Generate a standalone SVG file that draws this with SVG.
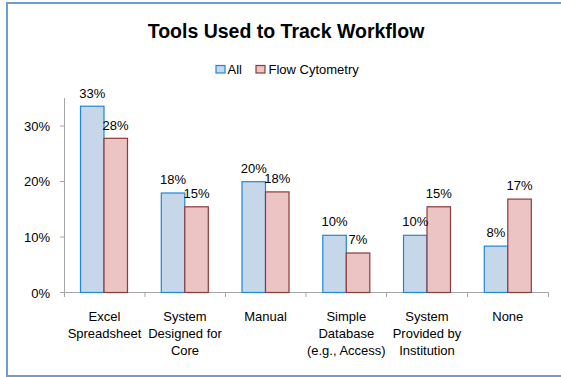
<svg xmlns="http://www.w3.org/2000/svg" width="561" height="377" viewBox="0 0 561 377">
<style>
text{font-family:"Liberation Sans",Arial,sans-serif;fill:#000}
.t{font-size:19.5px;font-weight:bold;text-anchor:middle}
.l{font-size:13px}
.v{font-size:13px;text-anchor:middle}
.y{font-size:13px;text-anchor:end}
.c{font-size:13px;text-anchor:middle}
.a{fill:#c5d7e8;stroke:#1c88d6;stroke-width:1.2}
.f{fill:#ebc4c3;stroke:#8b3a3a;stroke-width:1.2}
.ax{stroke:#a6a6a6;stroke-width:1;fill:none}
</style>
<rect x="0" y="0" width="561" height="377" fill="#fff"/>
<rect x="7" y="3" width="560" height="373" fill="#fff" stroke="#6f9dcc" stroke-width="2"/>
<text class="t" x="286" y="37.5">Tools Used to Track Workflow</text>
<g id="legend">
<rect class="a" x="216" y="65.5" width="9" height="7.5"/>
<text class="l" x="227.5" y="73.5">All</text>
<rect class="f" x="256" y="65.5" width="9" height="7.5"/>
<text class="l" x="268.5" y="73.5">Flow Cytometry</text>
</g>
<g id="axes">
<path class="ax" d="M64.5 98V292.5H548.5M60 292.5H64.5M60 237H64.5M60 181.5H64.5M60 126H64.5M64.5 292.5V297M145 292.5V297M225.5 292.5V297M306 292.5V297M386.5 292.5V297M467.5 292.5V297M548.5 292.5V297"/>
<text class="y" x="50" y="131">30%</text>
<text class="y" x="50" y="186">20%</text>
<text class="y" x="50" y="241.5">10%</text>
<text class="y" x="50" y="297.5">0%</text>
</g>
<g id="excel">
<rect class="a" x="80.5" y="106.2" width="23.5" height="186.3"/>
<rect class="f" x="104" y="138.3" width="23.5" height="154.2"/>
<text class="v" x="92.3" y="97.8">33%</text>
<text class="v" x="115.5" y="129.8">28%</text>
<text class="c" x="104.5" y="320.5">Excel</text>
<text class="c" x="104.5" y="337.8">Spreadsheet</text>
</g>
<g id="system-core">
<rect class="a" x="161.3" y="193" width="23.5" height="99.5"/>
<rect class="f" x="184.8" y="206.8" width="23.5" height="85.7"/>
<text class="v" x="173" y="184">18%</text>
<text class="v" x="196.5" y="197.8">15%</text>
<text class="c" x="185" y="320.5">System</text>
<text class="c" x="185" y="337.8">Designed for</text>
<text class="c" x="185" y="355">Core</text>
</g>
<g id="manual">
<rect class="a" x="242" y="181.7" width="23.5" height="110.8"/>
<rect class="f" x="265.5" y="191.9" width="23.5" height="100.6"/>
<text class="v" x="253.7" y="172.7">20%</text>
<text class="v" x="277.2" y="182.9">18%</text>
<text class="c" x="265.5" y="320.5">Manual</text>
</g>
<g id="simple-db">
<rect class="a" x="322.8" y="235.3" width="23.5" height="57.2"/>
<rect class="f" x="346.3" y="253" width="23.5" height="39.5"/>
<text class="v" x="334.5" y="226.3">10%</text>
<text class="v" x="358" y="244">7%</text>
<text class="c" x="346.3" y="320.5">Simple</text>
<text class="c" x="346.3" y="337.8">Database</text>
<text class="c" x="346.3" y="355">(e.g., Access)</text>
</g>
<g id="system-inst">
<rect class="a" x="403.5" y="235.3" width="23.5" height="57.2"/>
<rect class="f" x="427" y="206.8" width="23.5" height="85.7"/>
<text class="v" x="415.3" y="226.3">10%</text>
<text class="v" x="438.8" y="197.8">15%</text>
<text class="c" x="427" y="320.5">System</text>
<text class="c" x="427" y="337.8">Provided by</text>
<text class="c" x="427" y="355">Institution</text>
</g>
<g id="none">
<rect class="a" x="484.3" y="246.1" width="23.5" height="46.4"/>
<rect class="f" x="507.8" y="199.1" width="23.5" height="93.4"/>
<text class="v" x="496" y="237.1">8%</text>
<text class="v" x="519.5" y="190.1">17%</text>
<text class="c" x="507.8" y="320.5">None</text>
</g>
</svg>
